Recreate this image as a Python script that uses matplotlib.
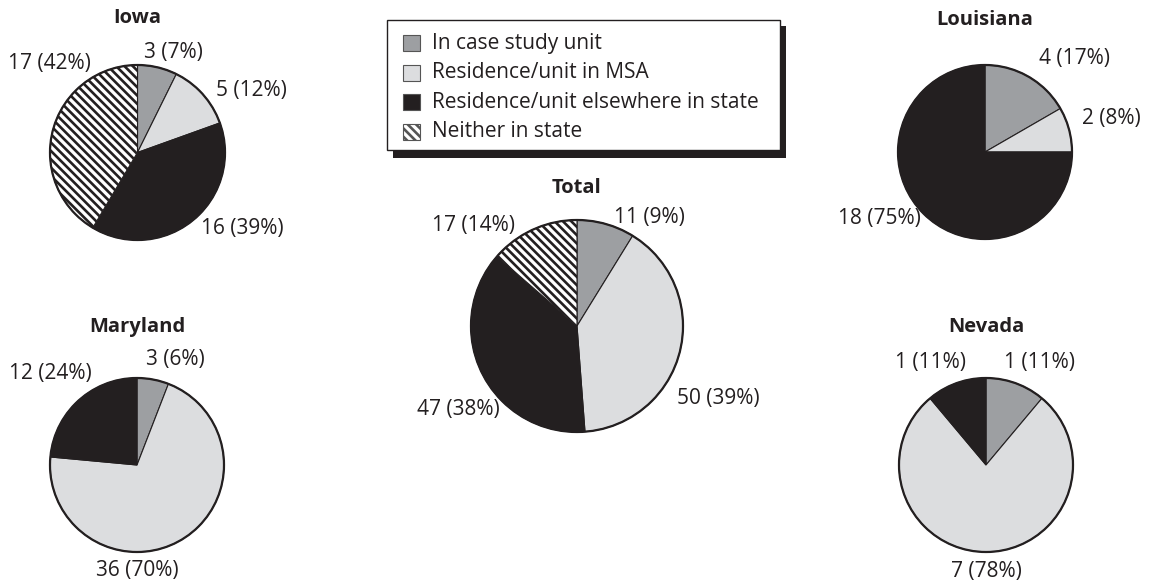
import matplotlib
matplotlib.use("Agg")
import matplotlib.pyplot as plt
from matplotlib.patches import Rectangle, Circle

plt.rcParams['font.family'] = ['Open Sans', 'DejaVu Sans']
plt.rcParams['hatch.linewidth'] = 1.9
plt.rcParams['hatch.color'] = '#231f20'

# ---------------- data ----------------
categories = ["In case study unit", "Residence/unit in MSA",
              "Residence/unit elsewhere in state", "Neither in state"]
pie_titles = ["Iowa", "Louisiana", "Total", "Maryland", "Nevada"]
iowa = [3, 5, 16, 17]
louisiana = [4, 2, 18, 0]
total = [11, 50, 47, 17]
maryland = [3, 36, 12, 0]
nevada = [1, 7, 1, 0]
iowa_labels = ["3 (7%)", "5 (12%)", "16 (39%)", "17 (42%)"]
louisiana_labels = ["4 (17%)", "2 (8%)", "18 (75%)", ""]
total_labels = ["11 (9%)", "50 (39%)", "47 (38%)", "17 (14%)"]
maryland_labels = ["3 (6%)", "36 (70%)", "12 (24%)", ""]
nevada_labels = ["1 (11%)", "7 (78%)", "1 (11%)", ""]

# ---------------- style / layout ----------------
W, H = 1151, 586
TXT = '#231f20'
colors = ['#9d9fa2', '#dcdddf', '#231f20', 'white']
hatches = [None, None, None, '\\\\\\\\']

# pie centre (px), radius (px), title offset (radius units)
layout = {
    "Iowa": ((137.5, 152.5), 87.5, 1.54),
    "Louisiana": ((985, 152), 87, 1.52),
    "Total": ((577, 326), 106, 1.30),
    "Maryland": ((137, 465), 87, 1.59),
    "Nevada": ((986, 465), 87, 1.59),
}
# label anchor positions in radius units
label_pos = {
    "Iowa": [(0.41, 1.14), (1.30, 0.71), (1.20, -0.87), (-1.01, 1.02)],
    "Louisiana": [(1.03, 1.08), (1.45, 0.39), (-1.21, -0.76), None],
    "Total": [(0.68, 1.02), (1.33, -0.68), (-1.12, -0.79), (-0.98, 0.95)],
    "Maryland": [(0.44, 1.21), (0.0, -1.21), (-0.99, 1.05), None],
    "Nevada": [(0.61, 1.18), (0.0, -1.22), (-0.64, 1.18), None],
}
series = {"Iowa": (iowa, iowa_labels), "Louisiana": (louisiana, louisiana_labels),
          "Total": (total, total_labels), "Maryland": (maryland, maryland_labels),
          "Nevada": (nevada, nevada_labels)}

fig = plt.figure(figsize=(W / 100, H / 100), dpi=100)
fig.patch.set_facecolor('white')

PAD = 1.06
for name in pie_titles:
    (cx, cy), r, toff = layout[name]
    vals, labs = series[name]
    R = r * PAD
    ax = fig.add_axes([(cx - R) / W, 1 - (cy + R) / H, 2 * R / W, 2 * R / H])
    idx = [i for i, v in enumerate(vals) if v > 0]
    wedges, _ = ax.pie([vals[i] for i in idx], colors=[colors[i] for i in idx],
                       startangle=90, counterclock=False, radius=1,
                       wedgeprops=dict(edgecolor=TXT, linewidth=0.8))
    for w, i in zip(wedges, idx):
        if hatches[i]:
            w.set_hatch(hatches[i])
    ax.add_patch(Circle((0, 0), 1, fill=False, edgecolor=TXT, linewidth=1.6))
    ax.set_xlim(-PAD, PAD)
    ax.set_ylim(-PAD, PAD)
    ax.set_aspect('equal')
    ax.axis('off')
    ax.text(0, toff, name, ha='center', va='center', fontsize=14.5,
            fontweight='bold', color=TXT, clip_on=False)
    for i, lab in enumerate(labs):
        p = label_pos[name][i]
        if p is None or not lab:
            continue
        ax.text(p[0], p[1], lab, ha='center', va='center', fontsize=15,
                color=TXT, clip_on=False)

# ---------------- legend ----------------
lax = fig.add_axes([0, 0, 1, 1])
lax.set_xlim(0, W)
lax.set_ylim(H, 0)
lax.axis('off')
bx0, by0, bx1, by1 = 387, 20, 780, 150
lax.add_patch(Rectangle((bx0 + 6, by0 + 6), bx1 - bx0, by1 - by0 + 1.5,
                        facecolor=TXT, edgecolor='none'))
lax.add_patch(Rectangle((bx0, by0), bx1 - bx0, by1 - by0, facecolor='white',
                        edgecolor=TXT, linewidth=1.0))
row_y = [43, 72.5, 102, 131.5]
for i, cat in enumerate(categories):
    y = row_y[i]
    lax.add_patch(Rectangle((403, y - 8), 17, 16, facecolor=colors[i],
                            edgecolor='#555555', linewidth=0.8,
                            hatch=hatches[i]))
    lax.text(432, y, cat, ha='left', va='center', fontsize=15, color=TXT)

fig.savefig('out.png', dpi=100, facecolor='white')
